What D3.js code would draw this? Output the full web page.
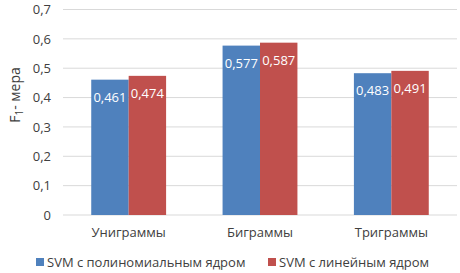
<!DOCTYPE html>
<html>
<head>
<meta charset="utf-8">
<script src="https://cdn.jsdelivr.net/npm/d3@7"></script>
<style>
body { margin: 0; background: #fff; }
text { font-family: "Open Sans", sans-serif; fill: #404040; }
</style>
</head>
<body>
<div id="chart"></div>
<script>
var categories = ["Униграммы", "Биграммы", "Триграммы"];
var seriesNames = ["SVM с полиномиальным ядром", "SVM с линейным ядром"];
var polyValues = [0.461, 0.577, 0.483];
var linearValues = [0.474, 0.587, 0.491];
var yTicks = [0, 0.1, 0.2, 0.3, 0.4, 0.5, 0.6, 0.7];
var colors = ["#4F81BD", "#C0504D"];

var w = 460, h = 273;
var margin = {top: 9.5, right: 3, bottom: 58, left: 63};

var svg = d3.select("#chart").append("svg")
	.attr("width", w).attr("height", h);

var chart = svg.append("g")
	.attr("transform", "translate(" + margin.left + "," + margin.top + ")");

var innerW = w - margin.left - margin.right;
var innerH = h - margin.top - margin.bottom;

var x = d3.scaleBand().domain(categories).range([0, innerW]).paddingInner(0).paddingOuter(0);
var y = d3.scaleLinear().domain([0, 0.7]).range([innerH, 0]);

var groupW = x.bandwidth() * 0.57;
var x1 = d3.scaleBand().domain([0, 1]).range([0, groupW]);

var fmt = function(v) { return d3.format(".3~f")(v).replace(".", ","); };

// grid
chart.selectAll(".grid").data(yTicks).enter()
	.append("line")
	.attr("x1", 0).attr("x2", innerW)
	.attr("y1", function(d) { return y(d); })
	.attr("y2", function(d) { return y(d); })
	.attr("stroke", "#d9d9d9").attr("stroke-width", 1);

var yAxis = d3.axisLeft(y).tickValues(yTicks).tickSize(0).tickPadding(12)
	.tickFormat(function(d) { return d === 0 ? "0" : d3.format(".1f")(d).replace(".", ","); });
var gy = chart.append("g").call(yAxis);
gy.select(".domain").remove();
gy.selectAll("text").style("font-size", "13px").attr("fill", "#404040");

var data = categories.map(function(c, i) {
	return {cat: c, vals: [polyValues[i], linearValues[i]]};
});

var groups = chart.selectAll(".group").data(data).enter()
	.append("g")
	.attr("transform", function(d) { return "translate(" + (x(d.cat) + (x.bandwidth() - groupW) / 2) + ",0)"; });

groups.selectAll("rect").data(function(d) { return d.vals; }).enter()
	.append("rect")
	.attr("x", function(d, i) { return x1(i); })
	.attr("y", function(d) { return y(d); })
	.attr("width", x1.bandwidth())
	.attr("height", function(d) { return y(0) - y(d); })
	.attr("fill", function(d, i) { return colors[i]; });

groups.selectAll(".lbl").data(function(d) { return d.vals; }).enter()
	.append("text")
	.attr("x", function(d, i) { return x1(i) + x1.bandwidth() / 2; })
	.attr("y", function(d) { return y(d) + 22; })
	.attr("text-anchor", "middle")
	.style("font-size", "13px")
	.style("fill", "#fff")
	.text(fmt);

var xAxis = d3.axisBottom(x).tickSize(0).tickPadding(13);
var gx = chart.append("g").attr("transform", "translate(0," + innerH + ")").call(xAxis);
gx.select(".domain").remove();
gx.selectAll("text").style("font-size", "13px").attr("fill", "#404040");

// y title
var yt = svg.append("text")
	.attr("transform", "translate(20,95) rotate(-90)")
	.attr("text-anchor", "middle")
	.style("font-size", "14px");
yt.append("tspan").text("F");
yt.append("tspan").attr("dy", 3).style("font-size", "10px").text("1");
yt.append("tspan").attr("dy", -3).text("- мера");

// legend
var legendX = [36, 268];
var legend = svg.selectAll(".legend").data(seriesNames).enter()
	.append("g")
	.attr("transform", function(d, i) { return "translate(" + legendX[i] + ",257)"; });
legend.append("rect").attr("width", 8).attr("height", 8).attr("y", 1)
	.attr("fill", function(d, i) { return colors[i]; });
legend.append("text").attr("x", 11).attr("y", 10)
	.style("font-size", "13px").text(function(d) { return d; });
</script>
</body>
</html>
